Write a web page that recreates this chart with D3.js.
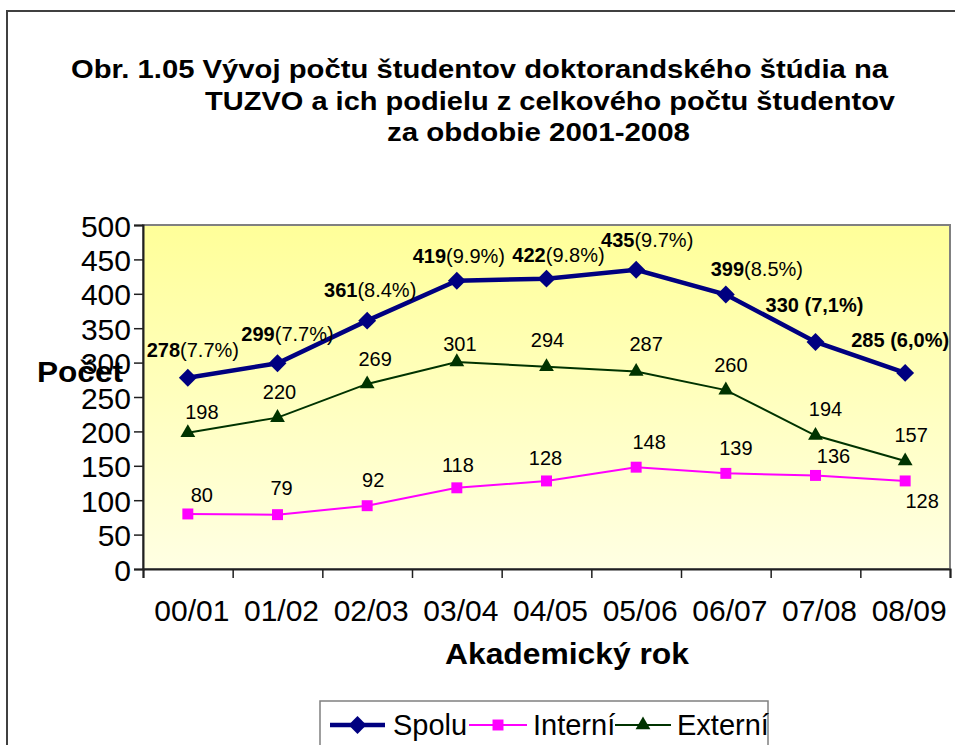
<!DOCTYPE html>
<html><head><meta charset="utf-8">
<script src="https://cdn.jsdelivr.net/npm/d3@7"></script>
<style>
body{margin:0;background:#fff;overflow:hidden}
text{font-family:Arial,"Liberation Sans",sans-serif;fill:#000}
</style>
</head><body><svg id="c" width="955" height="745"></svg>
<script>
// ---- data ----
const categories = ["00/01","01/02","02/03","03/04","04/05","05/06","06/07","07/08","08/09"];
const spolu   = [278,299,361,419,422,435,399,330,285];
const spoluPct = ["(7.7%)","(7.7%)","(8.4%)","(9.9%)","(9.8%)","(9.7%)","(8.5%)"," (7,1%)"," (6,0%)"];
const interni = [80,79,92,118,128,148,139,136,128];
const externi = [198,220,269,301,294,287,260,194,157];
const yTicks  = [0,50,100,150,200,250,300,350,400,450,500];
const seriesNames = ["Spolu","Interní","Externí"];
const titleLines = ["Obr. 1.05 Vývoj počtu študentov doktorandského štúdia na",
                    "TUZVO a ich podielu z celkového počtu študentov",
                    "za obdobie 2001-2008"];

// label placement (offsets from the point, px)
const spoluLblOff   = [[5,-21],[10,-22],[3,-24],[2,-18],[12,-17],[11,-23],[31,-18],[-1,-30],[-5,-26]];
const spoluPctBold  = [false,false,false,false,false,false,false,true,true];
const interniLblOff = [[14,-12],[4,-20],[6,-19],[1,-16],[-1,-16],[13,-18],[10,-18],[18,-12],[17,27]];
const externiLblOff = [[14,-14],[2,-19],[8,-18],[3,-11],[1,-20],[10,-21],[5,-18],[10,-20],[6,-19]];

const svg = d3.select("#c");
const L = 143, R = 950, T = 225, B = 569;
const x = d3.scaleBand().domain(categories).range([L, R]);
const xb = d3.scaleLinear().domain([0, categories.length]).range([L, R]);
const y = d3.scaleLinear().domain([0, 500]).range([B, T]);
const cx = c => x(c) + x.bandwidth() / 2;

// outer frame
svg.append("rect").attr("x", 7).attr("y", 11).attr("width", 1000).attr("height", 800)
  .attr("fill", "#fff").attr("stroke", "#404040").attr("stroke-width", 2);

// title
const titleCfg = [{x0: 71, x1: 888, yb: 78}, {x0: 205, x1: 895, yb: 110}, {x0: 387, x1: 690, yb: 141}];
titleLines.forEach((t, i) => {
  const c = titleCfg[i];
  svg.append("text").attr("x", c.x0).attr("y", c.yb)
    .attr("font-size", 26).attr("font-weight", "bold")
    .attr("textLength", c.x1 - c.x0).attr("lengthAdjust", "spacingAndGlyphs")
    .text(t);
});

// plot area gradient
const defs = svg.append("defs");
const g = defs.append("linearGradient").attr("id", "bg").attr("x1", 0).attr("y1", 0).attr("x2", 0).attr("y2", 1);
g.append("stop").attr("offset", "0%").attr("stop-color", "#FFFF99");
g.append("stop").attr("offset", "100%").attr("stop-color", "#FFFFE3");
svg.append("rect").attr("x", L).attr("y", T).attr("width", R - L).attr("height", B - T)
  .attr("fill", "url(#bg)").attr("stroke", "#808080").attr("stroke-width", 2);

// y axis
const ya = svg.append("g").attr("transform", `translate(${L},0)`)
  .call(d3.axisLeft(y).tickValues(yTicks).tickSize(9).tickPadding(3));
ya.select(".domain").attr("stroke", "#202020").attr("stroke-width", 2);
ya.selectAll(".tick line").attr("stroke", "#202020").attr("stroke-width", 1.5);
ya.selectAll(".tick text").attr("font-size", 30).attr("dy", null).attr("y", 11)
  .attr("font-family", "Arial, 'Liberation Sans', sans-serif").attr("fill", "#000");

// x axis ticks at band boundaries
const xa = svg.append("g").attr("transform", `translate(0,${B})`)
  .call(d3.axisBottom(xb).tickValues(d3.range(categories.length + 1)).tickSize(9).tickFormat(""));
xa.select(".domain").attr("stroke", "#202020").attr("stroke-width", 2);
xa.selectAll(".tick line").attr("stroke", "#202020").attr("stroke-width", 1.5);
// x labels
const xl = svg.append("g").attr("transform", `translate(4,${B})`)
  .call(d3.axisBottom(x).tickSize(0).tickPadding(0));
xl.select(".domain").remove();
xl.selectAll(".tick text").attr("font-size", 30).attr("dy", null).attr("y", 52)
  .attr("font-family", "Arial, 'Liberation Sans', sans-serif").attr("fill", "#000");

// axis titles
svg.append("text").attr("x", 37).attr("y", 382).attr("font-size", 30).attr("font-weight", "bold")
  .attr("textLength", 86).attr("lengthAdjust", "spacingAndGlyphs").text("Počet");
svg.append("text").attr("x", 445).attr("y", 664)
  .attr("font-size", 30).attr("font-weight", "bold")
  .attr("textLength", 244).attr("lengthAdjust", "spacingAndGlyphs").text("Akademický rok");

// series
const line = d3.line().x((d, i) => cx(categories[i])).y(d => y(d));
const sym = (type, size) => d3.symbol().type(type).size(size)();

svg.append("path").datum(interni).attr("d", line).attr("fill", "none").attr("stroke", "#FF00FF").attr("stroke-width", 2);
svg.append("path").datum(externi).attr("d", line).attr("fill", "none").attr("stroke", "#003300").attr("stroke-width", 2);
svg.append("path").datum(spolu).attr("d", line).attr("fill", "none").attr("stroke", "#000080").attr("stroke-width", 4.5);

svg.selectAll(".mi").data(interni).join("path").attr("class", "mi")
  .attr("transform", (d, i) => `translate(${cx(categories[i])},${y(d)})`)
  .attr("d", sym(d3.symbolSquare, 120)).attr("fill", "#FF00FF");
svg.selectAll(".me").data(externi).join("path").attr("class", "me")
  .attr("transform", (d, i) => `translate(${cx(categories[i])},${y(d)})`)
  .attr("d", sym(d3.symbolTriangle, 95)).attr("fill", "#003300");
svg.selectAll(".ms").data(spolu).join("path").attr("class", "ms")
  .attr("transform", (d, i) => `translate(${cx(categories[i])},${y(d)}) rotate(45)`)
  .attr("d", sym(d3.symbolSquare, 160)).attr("fill", "#000080");

// labels
const lblFont = 20;
svg.selectAll(".li").data(interni).join("text").attr("class", "li")
  .attr("x", (d, i) => cx(categories[i]) + interniLblOff[i][0])
  .attr("y", (d, i) => y(d) + interniLblOff[i][1])
  .attr("text-anchor", "middle").attr("font-size", lblFont).text(d => d);
svg.selectAll(".le").data(externi).join("text").attr("class", "le")
  .attr("x", (d, i) => cx(categories[i]) + externiLblOff[i][0])
  .attr("y", (d, i) => y(d) + externiLblOff[i][1])
  .attr("text-anchor", "middle").attr("font-size", lblFont).text(d => d);
const ls = svg.selectAll(".ls").data(spolu).join("text").attr("class", "ls")
  .attr("x", (d, i) => cx(categories[i]) + spoluLblOff[i][0])
  .attr("y", (d, i) => y(d) + spoluLblOff[i][1])
  .attr("text-anchor", "middle").attr("font-size", lblFont);
ls.append("tspan").attr("font-weight", "bold").text(d => d);
ls.append("tspan").attr("font-weight", (d, i) => spoluPctBold[i] ? "bold" : "normal")
  .text((d, i) => spoluPct[i].replace(" ", "\u00a0"));

// legend
const lg = svg.append("g");
lg.append("rect").attr("x", 320).attr("y", 701).attr("width", 448).attr("height", 80)
  .attr("fill", "#fff").attr("stroke", "#808080").attr("stroke-width", 1.5);
const legCfg = [
  {x0: 330, x1: 385, tx: 393, color: "#000080", w: 4.5, shape: d3.symbolSquare, size: 160, rot: 45},
  {x0: 469, x1: 527, tx: 533, color: "#FF00FF", w: 2, shape: d3.symbolSquare, size: 120, rot: 0},
  {x0: 615, x1: 671, tx: 677, color: "#003300", w: 2, shape: d3.symbolTriangle, size: 95, rot: 0}
];
const ly = 725;
seriesNames.forEach((n, i) => {
  const c = legCfg[i];
  lg.append("line").attr("x1", c.x0).attr("x2", c.x1).attr("y1", ly).attr("y2", ly)
    .attr("stroke", c.color).attr("stroke-width", c.w);
  lg.append("path").attr("transform", `translate(${(c.x0 + c.x1) / 2},${ly}) rotate(${c.rot})`)
    .attr("d", sym(c.shape, c.size)).attr("fill", c.color);
  lg.append("text").attr("x", c.tx).attr("y", 735).attr("font-size", 29).text(n);
});
</script>
</body></html>
